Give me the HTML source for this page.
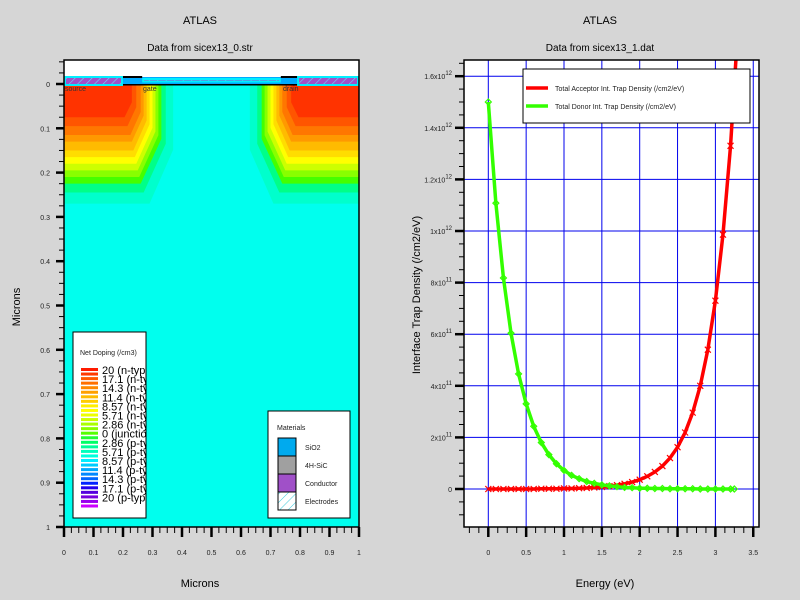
<!DOCTYPE html>
<html><head><meta charset="utf-8"><style>
html,body{margin:0;padding:0;background:#d6d6d6;}
svg{display:block;font-family:"Liberation Sans",sans-serif;}
</style></head><body>
<svg id="svg" width="800" height="600" viewBox="0 0 800 600" xmlns="http://www.w3.org/2000/svg">
<defs>
<pattern id="hatch" width="6" height="6" patternUnits="userSpaceOnUse" patternTransform="rotate(45)">
<rect width="6" height="6" fill="#a050c8"/><line x1="0" y1="0" x2="0" y2="6" stroke="#66ddff" stroke-width="1.2"/></pattern>
<pattern id="hatchw" width="6" height="6" patternUnits="userSpaceOnUse" patternTransform="rotate(45)">
<rect width="6" height="6" fill="#fff"/><line x1="0" y1="0" x2="0" y2="6" stroke="#44ccdd" stroke-width="1"/></pattern>
<clipPath id="lclip"><rect x="64" y="60" width="295" height="467"/></clipPath>
<clipPath id="rclip"><rect x="464" y="60" width="295" height="467"/></clipPath>
<clipPath id="legclip"><rect x="73" y="332" width="73" height="186"/></clipPath>
</defs>
<rect width="800" height="600" fill="#d6d6d6"/>
<text x="200" y="24" font-size="11" text-anchor="middle">ATLAS</text>
<text x="200" y="51" font-size="10" text-anchor="middle">Data from sicex13_0.str</text>
<text x="600" y="24" font-size="11" text-anchor="middle">ATLAS</text>
<text x="600" y="51" font-size="10" text-anchor="middle">Data from sicex13_1.dat</text>
<text x="200" y="587" font-size="11" text-anchor="middle">Microns</text>
<text transform="translate(20,307) rotate(-90)" font-size="11" text-anchor="middle">Microns</text>
<text x="605" y="587" font-size="11" text-anchor="middle">Energy (eV)</text>
<text transform="translate(420,295) rotate(-90)" font-size="11" text-anchor="middle">Interface Trap Density (/cm2/eV)</text>
<g id="left" clip-path="url(#lclip)"></g>
<g id="leftAxes"></g>
<g id="right"></g>
<g id="legends"></g>
</svg>
<script>
// ---- Right chart data ----
const energyDonor = [0,0.1,0.2,0.3,0.4,0.5,0.6,0.7,0.8,0.9,1.0,1.1,1.2,1.3,1.4,1.5,1.6,1.7,1.8,1.9,2.0,2.1,2.2,2.3,2.4,2.5,2.6,2.7,2.8,2.9,3.0,3.1,3.2,3.25];
const donorE11 = [15,11.08,8.18,6.04,4.46,3.30,2.43,1.80,1.33,0.98,0.72,0.53,0.40,0.29,0.22,0.16,0.12,0.09,0.06,0.05,0.03,0.03,0.02,0.02,0.01,0.01,0.01,0.01,0,0,0,0,0,0];
const energyAcc = [0,0.1,0.2,0.3,0.4,0.5,0.6,0.7,0.8,0.9,1.0,1.1,1.2,1.3,1.4,1.5,1.6,1.7,1.8,1.9,2.0,2.1,2.2,2.3,2.4,2.5,2.6,2.7,2.8,2.9,3.0,3.1,3.2,3.3];
const acceptorE11 = [0,0,0,0,0,0,0,0.01,0.01,0.01,0.02,0.02,0.03,0.04,0.06,0.08,0.11,0.15,0.20,0.27,0.36,0.49,0.66,0.89,1.20,1.62,2.19,2.96,4.0,5.4,7.3,9.86,13.3,18];
const xTicks = [0,0.5,1,1.5,2,2.5,3,3.5];
const yTicksE11 = [0,2,4,6,8,10,12,14,16];
// ---- Left chart data ----
const dopingLabels = ["20 (n-type)","17.1 (n-type)","14.3 (n-type)","11.4 (n-type)","8.57 (n-type)","5.71 (n-type)","2.86 (n-type)","0 (junction)","2.86 (p-type)","5.71 (p-type)","8.57 (p-type)","11.4 (p-type)","14.3 (p-type)","17.1 (p-type)","20 (p-type)"];
const dopingColors = ["#ff1a00","#ff3a00","#ff5a00","#ff7000","#ff8800","#ffa000","#ffbb00","#ffcc00","#ffee00","#ffff00","#eeff00","#ccff00","#aaff00","#88ff00","#55ff00","#22ff33","#00ff66","#00ff99","#00ffbb","#00ffdd","#00eeff","#00ccff","#00aaff","#0088ff","#0066ff","#0022ff","#2200ee","#5500dd","#7700dd","#9900ee","#cc00ff"];
const lTicks = [0,0.1,0.2,0.3,0.4,0.5,0.6,0.7,0.8,0.9,1];
const layerColors = ["#00ffcc","#00ff88","#44ff00","#88ff00","#ccff00","#ffff00","#ffdd00","#ffbb00","#ff9900","#ff7700","#ff5500","#ff3300"];
const layerDepth = [0.27,0.245,0.225,0.21,0.195,0.18,0.165,0.15,0.13,0.115,0.095,0.075];
const layerWidth = [0.37,0.345,0.33,0.32,0.31,0.30,0.29,0.28,0.27,0.26,0.245,0.23];

const NS="http://www.w3.org/2000/svg";
function mk(tag, attrs, parent){const e=document.createElementNS(NS,tag);for(const k in attrs)e.setAttribute(k,attrs[k]);parent.appendChild(e);return e;}

// left axes scales
const lx = v => 64 + v*295;
const ly = v => 84 + v*443;
const L = document.getElementById('left');
let bg = mk('rect',{x:64,y:60,width:295,height:467,fill:'#00ffee'},L);


mk('rect',{x:64,y:60,width:295,height:24,fill:'#ffffff'},L);
for(let side=0;side<2;side++){
  for(let i=0;i<layerColors.length;i++){
    const w=layerWidth[i], d=layerDepth[i], c=0.06*(1-i/layerColors.length)+0.02;
    const X = v => side? lx(1-v) : lx(v);
    const pts=[[0,0],[w,0],[w,d*0.55],[w-c,d],[0,d]].map(p=>X(p[0])+','+ly(p[1])).join(' ');
    const p=mk('polygon',{points:pts,fill:layerColors[i]},L);
    
    
  }
}
// oxide / electrodes
let ox=mk('rect',{x:lx(0.2),y:77,width:lx(0.8)-lx(0.2),height:8,fill:'#00aaff'},L);

mk('rect',{x:lx(0.2),y:76,width:lx(0.265)-lx(0.2),height:2,fill:'#000'},L);
mk('rect',{x:lx(0.735),y:76,width:lx(0.8)-lx(0.735),height:2,fill:'#000'},L);
mk('rect',{x:64,y:84,width:295,height:1.5,fill:'#000'},L);
const elec=[['source-electrode',0,0.2,76,10],['gate-electrode',0.265,0.735,78,4.5],['drain-electrode',0.79,1,76,10]];
for(const e of elec){const r=mk('rect',{x:lx(e[1])+1,y:e[3]+1,width:lx(e[2])-lx(e[1])-2,height:e[4]-2,fill:'url(#hatch)',stroke:'#00eeff','stroke-width':2},L);
}
for(const t of [['source',65],['gate',143],['drain',283]]){const tx=mk('text',{x:t[1],y:91,'font-size':7,fill:'#333'},L);tx.textContent=t[0];
}

const LA=document.getElementById('leftAxes');
mk('rect',{x:64,y:60,width:295,height:467,fill:'none',stroke:'#000','stroke-width':1.5},LA);
for(let v=-0.05; v<=1.0001; v+=0.025){const y=ly(v); const maj=Math.abs(v*10-Math.round(v*10))<1e-6;
  if(y<60) continue;
  mk('line',{x1:maj?56:59,y1:y,x2:64,y2:y,stroke:'#000','stroke-width':maj?2.5:1},LA);}
for(const v of lTicks){const t=mk('text',{x:50,y:ly(v)+3,'font-size':7,'text-anchor':'end',fill:'#222'},LA);t.textContent=v===0||v===1?String(v):v.toFixed(1);
}
for(let v=0; v<=1.0001; v+=0.025){const x=lx(v); const maj=Math.abs(v*10-Math.round(v*10))<1e-6;
  mk('line',{x1:x,y1:527,x2:x,y2:maj?537:533,stroke:'#000','stroke-width':maj?2.5:1},LA);}
for(const v of lTicks){const t=mk('text',{x:lx(v),y:555,'font-size':7,'text-anchor':'middle',fill:'#222'},LA);t.textContent=v===0||v===1?String(v):v.toFixed(1);
}

// legends (left)
const G=document.getElementById('legends');
let lb=mk('rect',{x:73,y:332,width:73,height:186,fill:'#fff',stroke:'#000','stroke-width':1},G);

let lt=mk('text',{x:80,y:355,'font-size':7,fill:'#222'},G);lt.textContent='Net Doping (/cm3)';
const lg=mk('g',{'clip-path':'url(#legclip)'},G);
dopingColors.forEach((c,i)=>{const r=mk('rect',{x:81,y:368+i*4.55,width:17,height:3,fill:c},lg);
});
dopingLabels.forEach((s,i)=>{const t=mk('text',{x:102,y:374+i*9.1,'font-size':11,fill:'#000'},lg);t.textContent=s;
});
let mb=mk('rect',{x:268,y:411,width:82,height:107,fill:'#fff',stroke:'#000','stroke-width':1},G);

let mt=mk('text',{x:277,y:430,'font-size':7,fill:'#222'},G);mt.textContent='Materials';
[['SiO2','#00aaee'],['4H-SiC','#a0a0a0'],['Conductor','#a050c8'],['Electrodes','url(#hatchw)']].forEach((m,i)=>{
  const r=mk('rect',{x:278,y:438+i*18,width:18,height:18,fill:m[1],stroke:'#000','stroke-width':1},G);
  
  const t=mk('text',{x:305,y:450+i*18,'font-size':7,fill:'#222'},G);t.textContent=m[0];
  });

// right chart
const rx = v => 488.3 + v*75.7;
const ry = v => 489 - v*25.8; // v in 1e11
const R=document.getElementById('right');
mk('rect',{x:464,y:60,width:295,height:467,fill:'#fff'},R);
for(const v of xTicks){const g=mk('line',{x1:rx(v),y1:60,x2:rx(v),y2:527,stroke:'#0000ee','stroke-width':1},R);
}
for(const v of yTicksE11){const g=mk('line',{x1:464,y1:ry(v),x2:759,y2:ry(v),stroke:'#0000ee','stroke-width':1},R);
}
const plot=mk('g',{'clip-path':'url(#rclip)'},R);
function series(xs,ys,color,name,mark){
  const pts=xs.map((x,i)=>rx(x)+','+ry(ys[i])).join(' ');
  const pl=mk('polyline',{points:pts,fill:'none',stroke:color,'stroke-width':3.5},plot);
  
  xs.forEach((x,i)=>{const cx=rx(x),cy=ry(ys[i]);
    const m=mk('path',{d:mark==='x'?`M${cx-3},${cy-3}L${cx+3},${cy+3}M${cx-3},${cy+3}L${cx+3},${cy-3}`:`M${cx-3},${cy}L${cx},${cy-3}L${cx+3},${cy}L${cx},${cy+3}Z`,stroke:color,'stroke-width':1.2,fill:'none'},plot);
    });
}
series(energyAcc,acceptorE11,'#ff0000','acceptor-trap-density','x');
series(energyDonor,donorE11,'#33ff00','donor-trap-density','d');
mk('rect',{x:464,y:60,width:295,height:467,fill:'none',stroke:'#000','stroke-width':1.5},R);
for(let v=-1.5; v<=16.6; v+=0.5){const y=ry(v);if(y<60||y>527)continue;const maj=Math.abs(v/2-Math.round(v/2))<1e-6;
  mk('line',{x1:maj?455:459,y1:y,x2:464,y2:y,stroke:'#000','stroke-width':maj?2.5:1},R);}
for(const v of yTicksE11){const t=mk('text',{x:452,y:ry(v)+3,'font-size':7,'text-anchor':'end',fill:'#222'},R);
  if(v===0){t.textContent='0';}else{const e=v>=10?12:11;const m=v>=10?(v/10):v;t.textContent=(Math.round(m*10)/10)+'x10';
   const s=mk('tspan',{dy:-4,'font-size':6},t);s.textContent=String(e);}
  }
for(let v=-0.25; v<=3.5001; v+=0.125){const x=rx(v);if(x<464)continue;const maj=Math.abs(v*2-Math.round(v*2))<1e-6;
  mk('line',{x1:x,y1:527,x2:x,y2:maj?537:533,stroke:'#000','stroke-width':maj?2.5:1},R);}
for(const v of xTicks){const t=mk('text',{x:rx(v),y:555,'font-size':7,'text-anchor':'middle',fill:'#222'},R);t.textContent=String(v);
}
// right legend
let rl=mk('rect',{x:523,y:69,width:227,height:54,fill:'#fff',stroke:'#000','stroke-width':1},R);

[['Total Acceptor Int. Trap Density (/cm2/eV)','#ff0000',88],['Total Donor Int. Trap Density (/cm2/eV)','#33ff00',106]].forEach(e=>{
  mk('line',{x1:526,y1:e[2],x2:548,y2:e[2],stroke:e[1],'stroke-width':3.5},R);
  const t=mk('text',{x:555,y:e[2]+3,'font-size':7,fill:'#222'},R);t.textContent=e[0];
  });
</script>
</body></html>
